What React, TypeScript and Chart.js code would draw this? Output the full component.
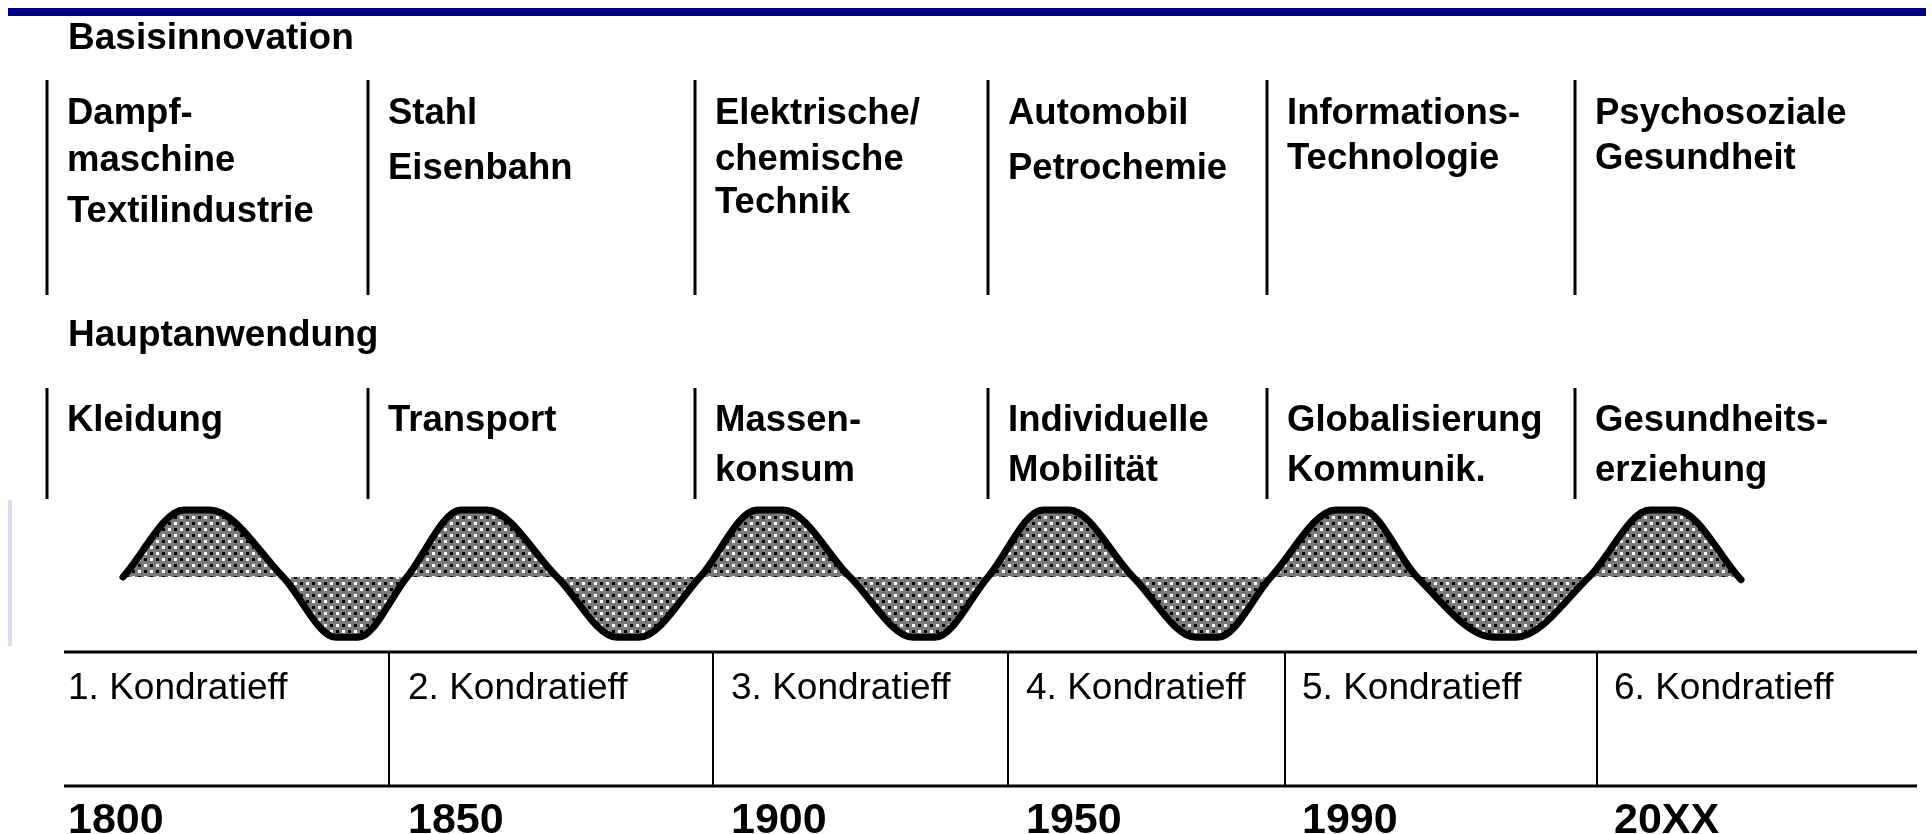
import React, { useEffect, useRef } from "react";
import { Chart, registerables } from "chart.js";

Chart.register(...registerables);

// ---------- data ----------
const sectionTitles = ["Basisinnovation", "Hauptanwendung"];
const basisInnovation = [
  ["Dampf-", "maschine", "Textilindustrie"],
  ["Stahl", "Eisenbahn"],
  ["Elektrische/", "chemische", "Technik"],
  ["Automobil", "Petrochemie"],
  ["Informations-", "Technologie"],
  ["Psychosoziale", "Gesundheit"],
];
const hauptanwendung = [
  ["Kleidung"],
  ["Transport"],
  ["Massen-", "konsum"],
  ["Individuelle", "Mobilität"],
  ["Globalisierung", "Kommunik."],
  ["Gesundheits-", "erziehung"],
];
const kondratieffLabels = [
  "1. Kondratieff",
  "2. Kondratieff",
  "3. Kondratieff",
  "4. Kondratieff",
  "5. Kondratieff",
  "6. Kondratieff",
];
const yearLabels = ["1800", "1850", "1900", "1950", "1990", "20XX"];

// wave: position along the time strip (diagram units) and relative amplitude
const waveX = [
  123, 184, 210, 283, 336, 358, 407, 461, 487, 557, 617, 639, 700, 757, 783, 850,
  913, 935, 988, 1043, 1069, 1133, 1196, 1218, 1271, 1336, 1362, 1417, 1494, 1516,
  1589, 1650, 1676, 1741,
];
const waveY = [
  0, 1, 1, 0, -0.9, -0.9, 0, 1, 1, 0, -0.9, -0.9, 0, 1, 1, 0,
  -0.9, -0.9, 0, 1, 1, 0, -0.9, -0.9, 0, 1, 1, 0, -0.9, -0.9,
  0, 1, 1, -0.04,
];

// ---------- layout ----------
const W = 1932;
const H = 834;
const BASE_Y = 577; // pixel of wave zero line
const AMP = 67; // pixels per wave unit
const colLineX = [47, 368, 695, 988, 1267, 1575];
const tableLineX = [389, 713, 1008, 1285, 1597];
const tableTextX = [68, 408, 731, 1026, 1302, 1614];
const basisBaselines = [
  [124, 171, 222],
  [124, 179],
  [124, 170, 213],
  [124, 179],
  [124, 169],
  [124, 169],
];
const hauptBaselines = [431, 481];

const FONT = '"Liberation Sans", Arial, Helvetica, sans-serif';

function makePattern(): CanvasPattern | string {
  const c = document.createElement("canvas");
  c.width = 12;
  c.height = 12;
  const g = c.getContext("2d");
  if (!g) return "#808080";
  g.fillStyle = "#7a7a7a";
  g.fillRect(0, 0, 12, 12);
  g.fillStyle = "#ffffff";
  g.fillRect(0, 0, 3, 3);
  g.fillRect(6, 6, 3, 3);
  g.fillStyle = "#000000";
  g.fillRect(6, 0, 3, 3);
  g.fillRect(0, 6, 3, 3);
  const p = g.createPattern(c, "repeat");
  return p || "#808080";
}

const decorPlugin = {
  id: "decor",
  beforeDatasetsDraw(chart: any) {
    const ctx = chart.ctx as CanvasRenderingContext2D;
    ctx.save();
    ctx.fillStyle = "#000080";
    ctx.fillRect(8, 8, 1918, 8);
    ctx.fillStyle = "#dcdcf4";
    ctx.fillRect(8, 500, 4, 146);
    ctx.restore();
  },
  afterDatasetsDraw(chart: any) {
    const ctx = chart.ctx as CanvasRenderingContext2D;
    const xs = chart.scales.x;
    const px = (v: number) => xs.getPixelForValue(v);
    ctx.save();
    ctx.fillStyle = "#000";
    ctx.strokeStyle = "#000";
    ctx.textBaseline = "alphabetic";
    ctx.textAlign = "left";

    ctx.font = `bold 37px ${FONT}`;
    ctx.fillText(sectionTitles[0], 68, 49);
    ctx.fillText(sectionTitles[1], 68, 346);

    ctx.lineWidth = 3;
    colLineX.forEach((x) => {
      ctx.beginPath();
      ctx.moveTo(px(x), 80);
      ctx.lineTo(px(x), 295);
      ctx.moveTo(px(x), 388);
      ctx.lineTo(px(x), 499);
      ctx.stroke();
    });

    ctx.font = `bold 36.5px ${FONT}`;
    basisInnovation.forEach((lines, i) => {
      lines.forEach((t, j) => ctx.fillText(t, px(colLineX[i]) + 20, basisBaselines[i][j]));
    });
    hauptanwendung.forEach((lines, i) => {
      lines.forEach((t, j) => ctx.fillText(t, px(colLineX[i]) + 20, hauptBaselines[j]));
    });

    ctx.lineWidth = 3;
    [652, 786].forEach((y) => {
      ctx.beginPath();
      ctx.moveTo(px(64), y);
      ctx.lineTo(px(1917), y);
      ctx.stroke();
    });
    ctx.lineWidth = 2;
    tableLineX.forEach((x) => {
      ctx.beginPath();
      ctx.moveTo(px(x), 652);
      ctx.lineTo(px(x), 786);
      ctx.stroke();
    });
    ctx.font = `37px ${FONT}`;
    kondratieffLabels.forEach((t, i) => ctx.fillText(t, px(tableTextX[i]), 699));
    ctx.font = `bold 43px ${FONT}`;
    yearLabels.forEach((t, i) => ctx.fillText(t, px(tableTextX[i]), 833));
    ctx.restore();
  },
};

export default function App() {
  const ref = useRef<HTMLCanvasElement | null>(null);
  useEffect(() => {
    document.body.style.margin = "0";
    const canvas = ref.current;
    if (!canvas) return;
    const points = waveX.map((x, i) => ({ x, y: waveY[i] }));
    const chart = new Chart(canvas, {
      type: "line",
      data: {
        datasets: [
          {
            data: points,
            borderColor: "#000000",
            borderWidth: 7,
            borderCapStyle: "round",
            borderJoinStyle: "round",
            backgroundColor: makePattern() as any,
            fill: { value: 0 },
            pointRadius: 0,
            cubicInterpolationMode: "monotone",
          } as any,
        ],
      },
      options: {
        animation: false,
        responsive: false,
        maintainAspectRatio: false,
        devicePixelRatio: 1,
        layout: { padding: 0 },
        plugins: { legend: { display: false }, tooltip: { enabled: false }, title: { display: false } },
        events: [],
        scales: {
          x: { type: "linear", min: 0, max: W, display: false },
          y: {
            type: "linear",
            min: -(H - BASE_Y) / AMP,
            max: BASE_Y / AMP,
            display: false,
          },
        },
      },
      plugins: [decorPlugin],
    });
    return () => chart.destroy();
  }, []);
  return (
    <div style={{ position: "fixed", left: 0, top: 0, width: W, height: H, background: "#fff" }}>
      <canvas ref={ref} width={W} height={H} style={{ display: "block", width: W, height: H }} />
    </div>
  );
}
